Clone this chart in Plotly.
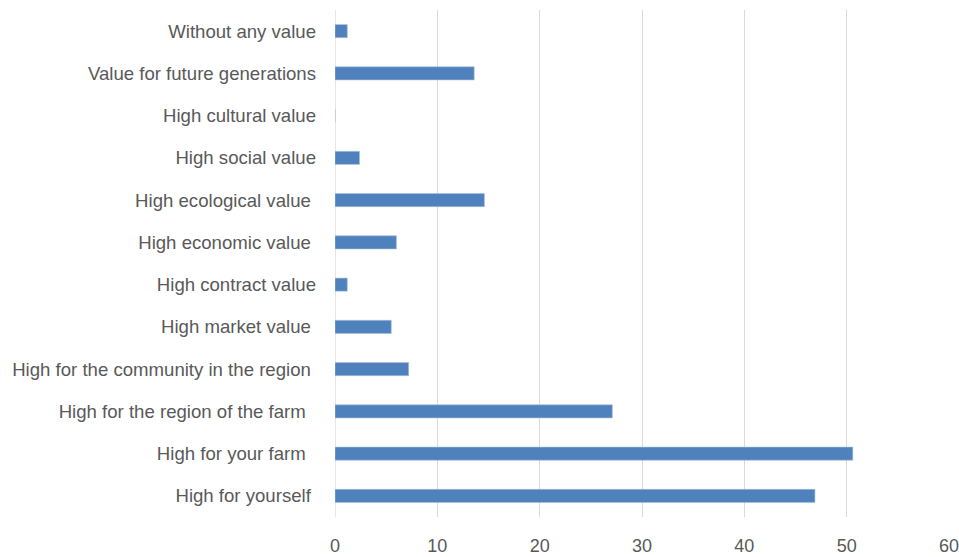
import plotly.graph_objects as go

categories = [
    "Without any value",
    "Value for future generations",
    "High cultural value",
    "High social value",
    "High ecological value\u00a0",
    "High economic value\u00a0",
    "High contract value",
    "High market value\u00a0",
    "High for the community in the region\u00a0",
    "High for the region of the farm\u00a0\u00a0",
    "High for your farm\u00a0\u00a0",
    "High for yourself\u00a0",
]
values = [1.2, 13.6, 0, 2.4, 14.6, 6.0, 1.2, 5.5, 7.2, 27.1, 50.6, 46.9]
x_ticks = [0, 10, 20, 30, 40, 50, 60]

fig = go.Figure(go.Bar(
    x=values, y=categories, orientation="h",
    marker=dict(color="#4f81bd", line=dict(color="#a7bfdc", width=0.6)),
    width=0.31,
))

fig.update_layout(
    width=959, height=557,
    margin=dict(l=335, r=10, t=10, b=40),
    paper_bgcolor="white", plot_bgcolor="white",
    font=dict(family="Liberation Sans, Arial, sans-serif", size=18.6, color="#595959"),
    showlegend=False,
)
fig.update_xaxes(
    range=[0, 60], tickvals=x_ticks, showgrid=True, gridcolor="#d9d9d9", gridwidth=1.3,
    zeroline=False, showline=False, ticks="", ticklabelstandoff=16, automargin=False,
    ticklabeloverflow="allow", tickfont=dict(size=18, color="#595959"),
)
fig.update_yaxes(
    autorange="reversed", showgrid=False, zeroline=False, showline=False, automargin=False,
    ticks="", ticklabelstandoff=18, tickfont=dict(size=18.6, color="#595959"),
)
fig.add_shape(type="line", xref="x", yref="paper", x0=0, x1=0, y0=0, y1=1,
              line=dict(color="#d9d9d9", width=1.3), layer="below")

fig.write_html(
    "out.html",
    config={"displayModeBar": False, "responsive": False},
    post_script="document.body.style.margin='0';document.body.style.overflow='hidden';",
)
